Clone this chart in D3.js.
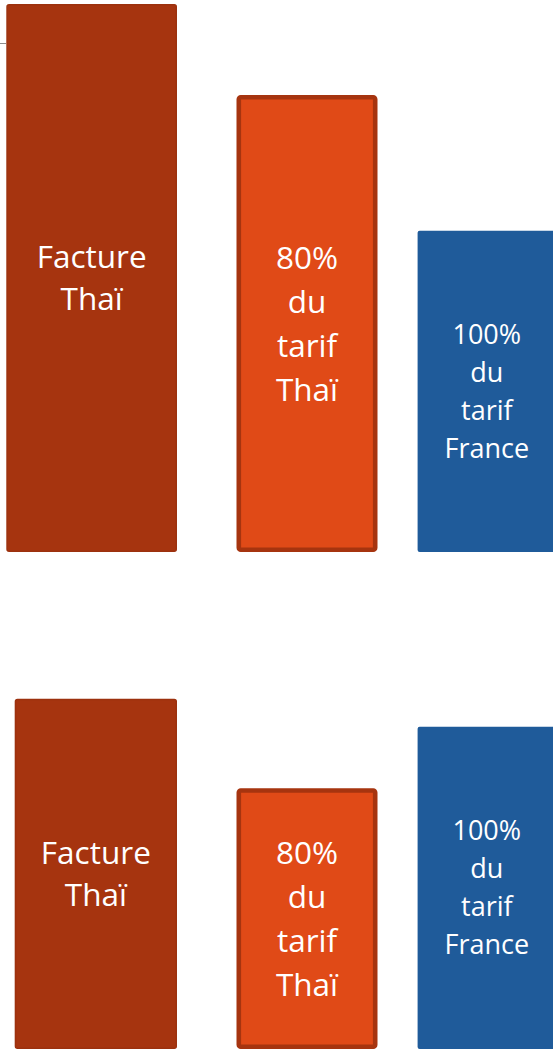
<!DOCTYPE html>
<html>
<head>
<meta charset="utf-8">
<script src="https://cdn.jsdelivr.net/npm/d3@7"></script>
<style>
  html, body { margin: 0; padding: 0; background: #fff; overflow: hidden; }
  svg { display: block; }
  text { font-family: "Open Sans", Lato, sans-serif; fill: #fff; }
</style>
</head>
<body>
<div id="chart"></div>
<script>
// the data (height of the tallest bar = 100)
var categories = ["facture", "thai80", "france100"];
var labels = [["Facture", "Thaï"], ["80%", "du", "tarif", "Thaï"], ["100%", "du", "tarif", "France"]];
var valuesTop = [100, 83.4, 58.6];
var valuesBottom = [63.9, 47.6, 58.8];

window.onload = function() {

  var width = 553, height = 1050;

  var svg = d3.select("#chart")
    .append("svg")
    .attr("width", width)
    .attr("height", height);

  // bar colours and text styles per category
  var fill = d3.scaleOrdinal().domain(categories).range(["#a6340f", "#e04a17", "#1f5b9a"]);
  var stroke = d3.scaleOrdinal().domain(categories).range(["#9c310e", "#a6340f", "#1f5b9a"]);
  var strokeW = d3.scaleOrdinal().domain(categories).range([1.5, 4.6, 0]);
  var fontSize = d3.scaleOrdinal().domain(categories).range([31.5, 31.5, 27]);
  var lineH = d3.scaleOrdinal().domain(categories).range([42, 44, 38]);

  // two panels, each with its own baseline
  var panels = [
    {values: valuesTop, base: 552, top: 4,
      x: d3.scaleOrdinal().domain(categories).range([[6.3, 177], [236.5, 377.5], [417.6, 556]])},
    {values: valuesBottom, base: 1049, top: 501,
      x: d3.scaleOrdinal().domain(categories).range([[14.7, 177], [236.5, 377.5], [417.6, 556]])}
  ];

  // stray grid stub on the left edge
  svg.append("line")
    .attr("x1", 0).attr("x2", 6)
    .attr("y1", 43.5).attr("y2", 43.5)
    .attr("stroke", "#8c8c8c")
    .attr("stroke-width", 1);

  panels.forEach(function(p) {
    var y = d3.scaleLinear().domain([0, 100]).range([p.base, p.top]);

    var rows = categories.map(function(c, i) {
      return {cat: c, value: p.values[i], lines: labels[i]};
    });

    var g = svg.append("g");

    var bar = g.selectAll("g.bar")
      .data(rows)
      .enter().append("g")
      .attr("class", "bar");

    bar.append("rect")
      .attr("x", function(d) { return p.x(d.cat)[0] + strokeW(d.cat) / 2; })
      .attr("y", function(d) { return y(d.value) + strokeW(d.cat) / 2; })
      .attr("width", function(d) { return p.x(d.cat)[1] - p.x(d.cat)[0] - strokeW(d.cat); })
      .attr("height", function(d) { return y(0) - y(d.value) - strokeW(d.cat); })
      .attr("rx", 2)
      .attr("fill", function(d) { return fill(d.cat); })
      .attr("stroke", function(d) { return stroke(d.cat); })
      .attr("stroke-width", function(d) { return strokeW(d.cat); });

    // labels centred in each bar
    bar.append("text")
      .attr("text-anchor", "middle")
      .style("font-size", function(d) { return fontSize(d.cat) + "px"; })
      .each(function(d) {
        var cx = (p.x(d.cat)[0] + p.x(d.cat)[1]) / 2;
        var cy = (y(d.value) + y(0)) / 2;
        var n = d.lines.length, lh = lineH(d.cat), cap = fontSize(d.cat) * 0.7;
        var first = cy - (n - 1) * lh / 2 + cap / 2;
        d3.select(this).selectAll("tspan")
          .data(d.lines)
          .enter().append("tspan")
          .attr("x", cx)
          .attr("y", function(t, k) { return first + k * lh; })
          .text(function(t) { return t; });
      });
  });
};
</script>
</body>
</html>
